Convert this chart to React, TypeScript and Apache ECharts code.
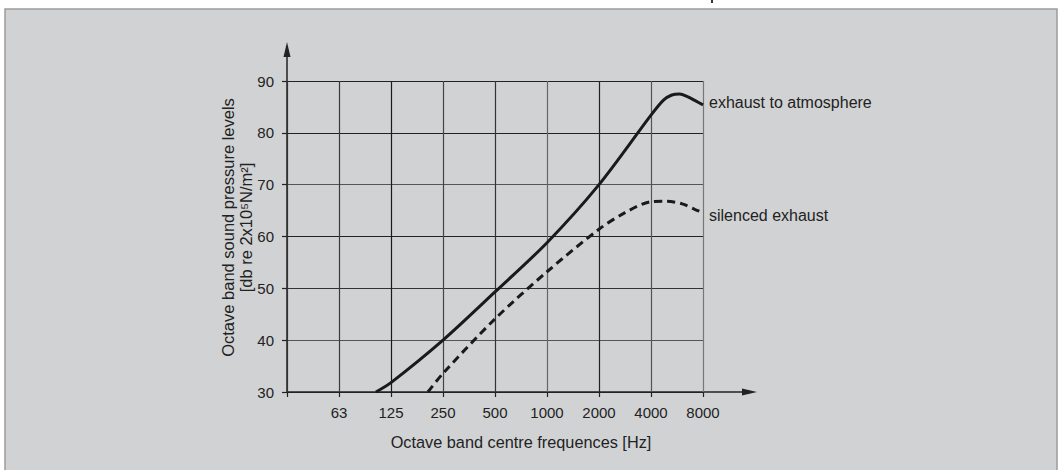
import React, { useEffect, useRef } from "react";
import * as echarts from "echarts";

// ---- data ----
const freqLabels = ["", "63", "125", "250", "500", "1000", "2000", "4000", "8000"];
const yMin = 30;
const yMax = 90;
const yStep = 10;

const atmosphereName = "exhaust to atmosphere";
const atmosphereX = [1.71, 2, 3, 4, 5, 6, 7, 7.24, 7.4, 7.55, 7.7, 7.85, 8];
const atmosphereY = [30, 31.8, 40, 49.3, 58.8, 70, 83.4, 86.3, 87.3, 87.5, 87.0, 86.2, 85.4];

const silencedName = "silenced exhaust";
const silencedX = [2.71, 3, 4, 5, 6, 6.5, 7, 7.3, 7.6, 7.85, 8];
const silencedY = [30, 33.6, 44.1, 53.2, 61.4, 64.6, 66.7, 66.8, 66.3, 65.2, 64.6];

const yAxisName1 = "Octave band sound pressure levels";
const yAxisName2 = "[db re 2x10⁵N/m²]";
const xAxisName = "Octave band centre frequences [Hz]";

// ---- layout ----
const W = 1060;
const H = 470;
const GL = 287;
const GT = 81;
const GW = 416;
const GH = 311;
const FONT = "'Liberation Sans', Arial, Helvetica, sans-serif";
const INK = "#222";

export default function App() {
  const ref = useRef<HTMLDivElement>(null);

  useEffect(() => {
    if (!ref.current) return;
    const chart = echarts.init(ref.current, null, { renderer: "svg" });
    const pair = (xs: number[], ys: number[]) => xs.map((x, i) => [x, ys[i]]);
    const gb = GT + GH;

    chart.setOption({
      animation: false,
      backgroundColor: "#ffffff",
      grid: { left: GL, top: GT, width: GW, height: GH, containLabel: false },
      xAxis: {
        type: "value",
        min: 0,
        max: freqLabels.length - 1,
        interval: 1,
        axisLine: { show: false },
        axisTick: { show: true, length: 5, lineStyle: { color: INK, width: 1.2 } },
        axisLabel: {
          margin: 13,
          fontSize: 15,
          fontFamily: FONT,
          color: INK,
          formatter: (v: number) => freqLabels[Math.round(v)] ?? "",
        },
        splitLine: {
          show: true,
          lineStyle: {
            width: 1.2,
            color: ["#333", "#3a3a3a", "#1a1a1a", "#444", "#333", "#666", "#222", "#555", "#777"],
          },
        },
      },
      yAxis: {
        type: "value",
        min: yMin,
        max: yMax,
        interval: yStep,
        axisLine: { show: false },
        axisTick: { show: true, length: 5, lineStyle: { color: INK, width: 1.2 } },
        axisLabel: { margin: 13, fontSize: 15, fontFamily: FONT, color: INK },
        splitLine: {
          show: true,
          lineStyle: { width: 1.2, color: ["#222", "#555", "#333", "#222", "#555", "#222", "#222"] },
        },
      },
      series: [
        {
          name: atmosphereName,
          type: "line",
          data: pair(atmosphereX, atmosphereY),
          smooth: 0.3,
          showSymbol: false,
          symbol: "none",
          lineStyle: { color: "#1a1a1a", width: 3 },
          endLabel: {
            show: true,
            formatter: atmosphereName,
            distance: 6,
            offset: [0, -2],
            fontSize: 16,
            fontFamily: FONT,
            color: INK,
          },
        },
        {
          name: silencedName,
          type: "line",
          data: pair(silencedX, silencedY),
          smooth: 0.3,
          showSymbol: false,
          symbol: "none",
          lineStyle: { color: "#1a1a1a", width: 3, type: [8, 5] },
          endLabel: {
            show: true,
            formatter: silencedName,
            distance: 6,
            offset: [0, 3],
            fontSize: 16,
            fontFamily: FONT,
            color: INK,
          },
        },
      ],
      graphic: [
        {
          type: "rect",
          z: -10,
          silent: true,
          shape: { x: 5, y: 9, width: 1052, height: H - 9 + 5 },
          style: { fill: "#d1d2d4", stroke: "#9c9c9c", lineWidth: 1.5 },
        },
        {
          type: "rect",
          silent: true,
          shape: { x: 711, y: 0, width: 2, height: 3 },
          style: { fill: "#333" },
        },
        // y axis with arrow
        {
          type: "line",
          silent: true,
          shape: { x1: GL, y1: gb, x2: GL, y2: 50 },
          style: { stroke: INK, lineWidth: 1.5 },
        },
        {
          type: "polygon",
          silent: true,
          shape: { points: [[GL, 42], [GL - 3.5, 57], [GL + 3.5, 57]] },
          style: { fill: INK },
        },
        // x axis with arrow
        {
          type: "line",
          silent: true,
          shape: { x1: GL, y1: gb, x2: 750, y2: gb },
          style: { stroke: INK, lineWidth: 1.5 },
        },
        {
          type: "polygon",
          silent: true,
          shape: { points: [[757, gb], [742, gb - 3.5], [742, gb + 3.5]] },
          style: { fill: INK },
        },
        {
          type: "text",
          silent: true,
          x: 228,
          y: GT + GH / 2 - 9,
          rotation: Math.PI / 2,
          style: {
            text: yAxisName1,
            fontSize: 16.5,
            fontFamily: FONT,
            fill: INK,
            align: "center",
            verticalAlign: "middle",
          },
        },
        {
          type: "text",
          silent: true,
          x: 246,
          y: GT + GH / 2 - 9,
          rotation: Math.PI / 2,
          style: {
            text: yAxisName2,
            fontSize: 16.5,
            fontFamily: FONT,
            fill: INK,
            align: "center",
            verticalAlign: "middle",
          },
        },
        {
          type: "text",
          silent: true,
          x: 521,
          y: 442,
          style: {
            text: xAxisName,
            fontSize: 16.3,
            fontFamily: FONT,
            fill: INK,
            align: "center",
            verticalAlign: "middle",
          },
        },
      ],
    });

    return () => chart.dispose();
  }, []);

  return (
    <div
      ref={ref}
      style={{ position: "fixed", left: 0, top: 0, width: W, height: H, background: "#fff" }}
    />
  );
}
